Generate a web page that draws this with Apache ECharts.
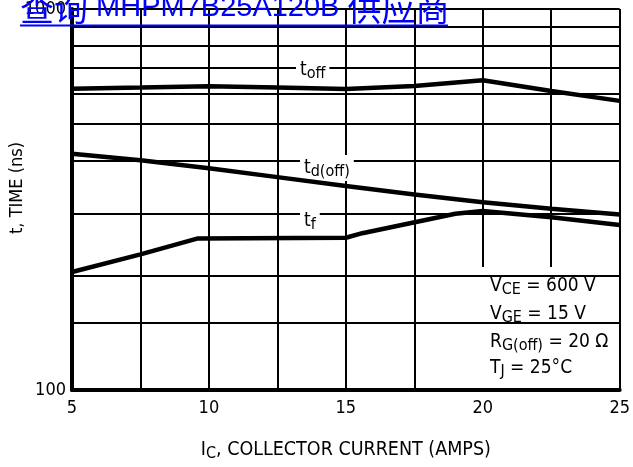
<!DOCTYPE html>
<html><head><meta charset="utf-8">
<script src="https://cdn.jsdelivr.net/npm/echarts@6/dist/echarts.min.js"></script>
<style>html,body{margin:0;padding:0;background:#fff}#c{width:633px;height:467px}</style>
</head><body><div id="c"></div>
<script>
// ---- data ----
const currentToff = [5, 7.5, 10, 12.5, 15, 17.5, 20, 22.5, 25];
const toffValues  = [618, 622, 627, 622, 617, 628, 650, 609, 574];
const currentTdoff = [5, 7.5, 10, 12.5, 15, 17.5, 20, 22.5, 25];
const tdoffValues  = [417, 401, 382, 362, 343, 326, 311, 299, 289];
const currentTf = [5, 7.5, 9.6, 15, 15.6, 19, 20, 22.5, 25];
const tfValues  = [204, 227, 250, 251, 258, 290, 295, 284, 271];
const gridValues = [1000, 900, 800, 700, 600, 500, 400, 290, 200, 150];
const xTickLabels = [5, 10, 15, 20, 25];
const yTickLabels = [100, 1000];
const conditions = [
  ['V', 'CE', ' = 600 V'],
  ['V', 'GE', ' = 15 V'],
  ['R', 'G(off)', ' = 20 Ω'],
  ['T', 'J', ' = 25°C']
];

const FONT = '"Liberation Sans Narrow", "DejaVu Sans Condensed", "Liberation Sans", sans-serif';
const chart = echarts.init(document.getElementById('c'));

function pairs(xs, ys) { return xs.map((x, i) => [x, ys[i]]); }
const curveStyle = { color: '#000', width: 4.5 };

function labelText(main, sub, x, y) {
  return {
    type: 'text', z: 6, x: x, y: y,
    style: {
      text: '{m|' + main + '}{s|' + sub + '}',
      backgroundColor: '#fff', padding: [1, 4, 1, 4],
      verticalAlign: 'middle',
      rich: {
        m: { fontFamily: FONT, fontSize: 19, fill: '#000' },
        s: { fontFamily: FONT, fontSize: 16, fill: '#000', padding: [8, 0, 0, 0] }
      }
    }
  };
}

const graphics = [
  { type: 'rect', z: 5, shape: { x: 477, y: 267, width: 140, height: 121 }, style: { fill: '#fff' } },
  labelText('t', 'off', 296, 70),
  labelText('t', 'd(off)', 300, 168),
  labelText('t', 'f', 300, 221),
  { type: 'text', z: 6, x: 17, y: 188, rotation: Math.PI / 2,
    style: { text: 't, TIME (ns)', fontFamily: FONT, fontSize: 18, fill: '#000', align: 'center', verticalAlign: 'middle' } },
  { type: 'text', z: 20, x: 20, y: 8,
    style: {
      text: '{c|查询}{l| MHPM7B25A120B }{c|供应商}',
      verticalAlign: 'middle', fill: '#0000ff',
      rich: {
        c: { fontFamily: '"Noto Sans CJK SC", sans-serif', fontSize: 34, fill: '#0000ff' },
        l: { fontFamily: '"Liberation Sans", sans-serif', fontSize: 29, fill: '#0000ff' }
      }
    } },
  { type: 'rect', z: 20, shape: { x: 20, y: 24.5, width: 428, height: 2 }, style: { fill: '#0000ff' } }
];
const condY = [286, 314, 342, 368];
conditions.forEach((c, i) => {
  graphics.push({
    type: 'text', z: 6, x: 490, y: condY[i],
    style: {
      text: '{m|' + c[0] + '}{s|' + c[1] + '}{m|' + c[2] + '}',
      verticalAlign: 'middle',
      rich: {
        m: { fontFamily: FONT, fontSize: 19, fill: '#000' },
        s: { fontFamily: FONT, fontSize: 16, fill: '#000', padding: [8, 0, 0, 0] }
      }
    }
  });
});

chart.setOption({
  animation: false,
  backgroundColor: '#fff',
  grid: { left: 72, right: 10, top: 7, bottom: 70 },
  xAxis: {
    type: 'value', min: 5, max: 25, interval: 2.5,
    axisLine: { show: true, lineStyle: { color: '#000', width: 4 } },
    axisTick: { show: false },
    splitLine: { show: true, lineStyle: { color: '#000', width: 2 } },
    axisLabel: {
      margin: 9, fontFamily: FONT, fontSize: 18, color: '#000',
      formatter: v => (xTickLabels.indexOf(v) >= 0 ? String(v) : '')
    },
    name: '{m|I}{s|C}{m|, COLLECTOR CURRENT (AMPS)}',
    nameLocation: 'middle', nameGap: 48,
    nameTextStyle: {
      rich: {
        m: { fontFamily: FONT, fontSize: 19.5, color: '#000' },
        s: { fontFamily: FONT, fontSize: 16, color: '#000', padding: [8, 0, 0, 0] }
      }
    }
  },
  yAxis: {
    type: 'log', logBase: 10, min: 100, max: 1000,
    axisLine: { show: true, lineStyle: { color: '#000', width: 4 } },
    axisTick: { show: false },
    splitLine: { show: false },
    axisLabel: {
      margin: 6, fontFamily: FONT, fontSize: 18, color: '#000',
      formatter: v => (yTickLabels.indexOf(Math.round(v)) >= 0 ? String(Math.round(v)) : '')
    }
  },
  graphic: graphics,
  series: [
    {
      type: 'line', data: [], z: 1, silent: true,
      markLine: {
        silent: true, symbol: ['none', 'none'], label: { show: false },
        lineStyle: { color: '#000', width: 2, type: 'solid' },
        data: gridValues.map(v => ({ yAxis: v }))
      }
    },
    { type: 'line', z: 10, symbol: 'none', data: pairs(currentToff, toffValues), lineStyle: curveStyle },
    { type: 'line', z: 10, symbol: 'none', data: pairs(currentTdoff, tdoffValues), lineStyle: curveStyle },
    { type: 'line', z: 10, symbol: 'none', data: pairs(currentTf, tfValues), lineStyle: curveStyle }
  ]
});
</script></body></html>
